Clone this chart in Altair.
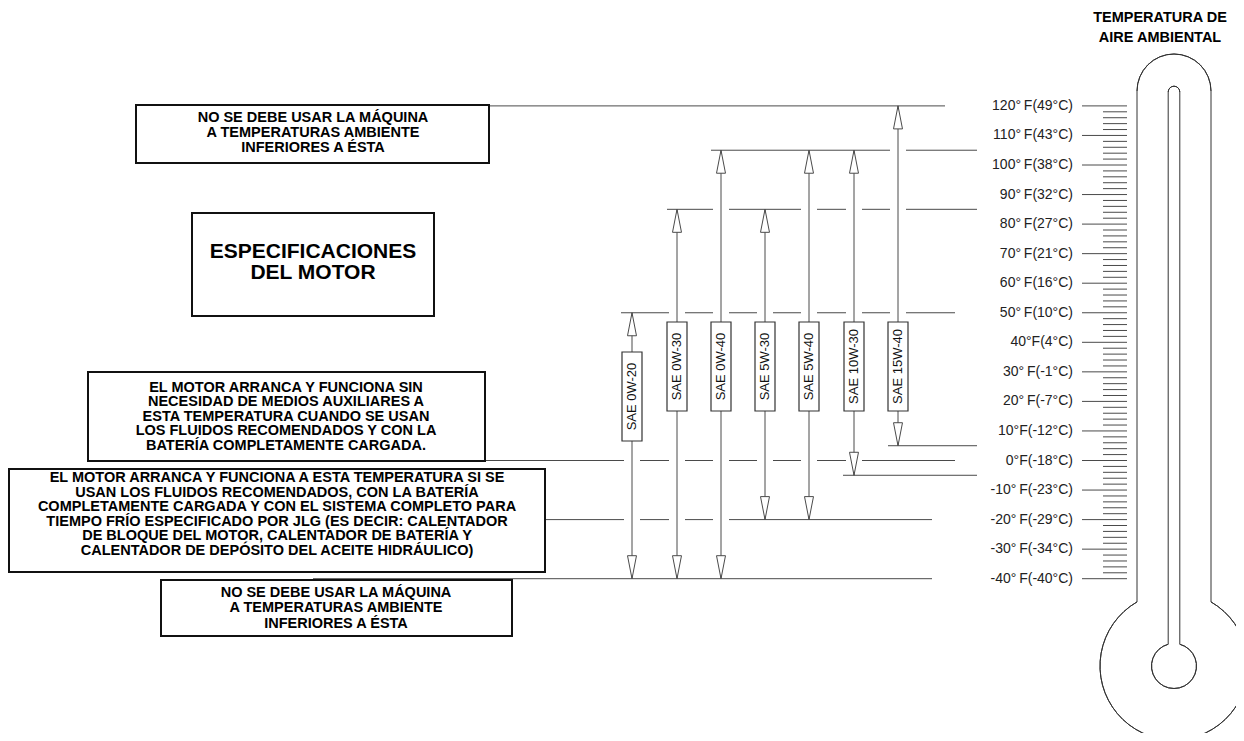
import altair as alt
import pandas as pd

# ---------------- chart data ----------------
oil_grades = ["SAE 0W-20", "SAE 0W-30", "SAE 0W-40", "SAE 5W-30",
              "SAE 5W-40", "SAE 10W-30", "SAE 15W-40"]
oil_low_f = [-40, -40, -40, -20, -20, -5, 5]
oil_high_f = [50, 85, 105, 85, 105, 105, 120]

scale_f = [120, 110, 100, 90, 80, 70, 60, 50, 40, 30, 20, 10, 0,
           -10, -20, -30, -40]
TS = "\u2009"
scale_labels = [
    f"120°{TS}F(49°C)", f"110°{TS}F(43°C)", f"100°{TS}F(38°C)",
    f"90°{TS}F(32°C)", f"80°{TS}F(27°C)", f"70°{TS}F(21°C)",
    f"60°{TS}F(16°C)", f"50°{TS}F(10°C)", "40°F(4°C)",
    f"30°{TS}F(-1°C)", f"20°{TS}F(-7°C)", "10°F(-12°C)", "0°F(-18°C)",
    f"-10°{TS}F(-23°C)", f"-20°{TS}F(-29°C)", f"-30°{TS}F(-34°C)",
    f"-40°{TS}F(-40°C)",
]
minor_f = [t for t in range(-38, 120, 2) if t % 10 != 0]

guide_f = [120, 105, 85, 50, 5, 0, -5, -20, -40]

note_no_use = ["NO SE DEBE USAR LA MÁQUINA", "A TEMPERATURAS AMBIENTE",
               "INFERIORES A ÉSTA"]
note_title = ["ESPECIFICACIONES", "DEL MOTOR"]
note_start = ["EL MOTOR ARRANCA Y FUNCIONA SIN",
              "NECESIDAD DE MEDIOS AUXILIARES A",
              "ESTA TEMPERATURA CUANDO SE USAN",
              "LOS FLUIDOS RECOMENDADOS Y CON LA",
              "BATERÍA COMPLETAMENTE CARGADA."]
note_cold = ["EL MOTOR ARRANCA Y FUNCIONA A ESTA TEMPERATURA SI SE",
             "USAN LOS FLUIDOS RECOMENDADOS, CON LA BATERÍA",
             "COMPLETAMENTE CARGADA Y CON EL SISTEMA COMPLETO PARA",
             "TIEMPO FRÍO ESPECIFICADO POR JLG (ES DECIR: CALENTADOR",
             "DE BLOQUE DEL MOTOR, CALENTADOR DE BATERÍA Y",
             "CALENTADOR DE DEPÓSITO DEL ACEITE HIDRÁULICO)"]
thermo_title = ["TEMPERATURA DE", "AIRE AMBIENTAL"]

# ---------------- layout (pixels of the page) ----------------
W, H = 1228, 725
PX_PER_F, Y_ZERO = 2.955, 460.5


def f_at(py):
    return (Y_ZERO - py) / PX_PER_F


FONT = "Liberation Sans"
LINE = "#4a4a4a"

oil_x = [632, 677, 721, 765, 809, 854, 898]
oil_box_cy = [396.5, 366.5, 366.5, 366.5, 366.5, 366.5, 366.5]
guide_x1 = [489, 711, 667, 621, 888, 485, 843, 545, 313]
guide_x2 = [945, 977, 977, 955, 977, 955, 977, 932, 932]

note_boxes = [  # x1, x2, top, bottom
    (136, 489, 105, 163),
    (192, 434, 213, 316),
    (88, 485, 372, 461),
    (9, 545, 469, 572),
    (161, 512, 580, 636),
]
note_blocks = [  # lines, center x, first line y, line step, font size
    (note_no_use, 313, 117.5, 15.3, 14.5),
    (note_title, 313, 251.5, 21.5, 21),
    (note_start, 286, 387.5, 14.5, 14.5),
    (note_cold, 277, 478.3, 14.5, 14.5),
    (note_no_use, 336, 593, 15.3, 14.5),
    (thermo_title, 1160, 18, 19.5, 14.5),
]

xs = alt.Scale(domain=[8, 8 + W], nice=False, zero=False)
ys = alt.Scale(domain=[f_at(8 + H), f_at(8)], nice=False, zero=False)


def X(f):
    return alt.X(f, type="quantitative", scale=xs, axis=None)


def Y(f):
    return alt.Y(f, type="quantitative", scale=ys, axis=None)


# ---------------- tables ----------------
oil_df = pd.DataFrame({
    "grade": oil_grades, "low": oil_low_f, "high": oil_high_f, "x": oil_x,
    "bx1": [v - 10 for v in oil_x], "bx2": [v + 10 for v in oil_x],
    "by1": [f_at(c - 44.5) for c in oil_box_cy],
    "by2": [f_at(c + 44.5) for c in oil_box_cy],
    "cy": [f_at(c) for c in oil_box_cy],
})

guides_df = pd.DataFrame({"f": guide_f, "x1": guide_x1, "x2": guide_x2})

mask_rows = []
for g, a, b in zip(guide_f, guide_x1, guide_x2):
    for lo, hi, ox in zip(oil_low_f, oil_high_f, oil_x):
        if lo < g < hi and a < ox < b:
            mask_rows.append({"f": g, "x1": ox - 8, "x2": ox + 8})
mask_df = pd.DataFrame(mask_rows)

nbox_df = pd.DataFrame([
    {"x1": a, "x2": b, "y1": f_at(t), "y2": f_at(u)} for a, b, t, u in note_boxes
])

ntext_rows = []
for lines, cx, y0, step, size in note_blocks:
    for i, s in enumerate(lines):
        ntext_rows.append({"t": s, "x": cx, "y": f_at(y0 + i * step), "size": size})
ntext_df = pd.DataFrame(ntext_rows)

major_df = pd.DataFrame({"f": scale_f, "label": scale_labels,
                         "x1": 1082, "x2": 1127, "lx": 1073})
minor_df = pd.DataFrame({"f": minor_f, "x1": 1103, "x2": 1127})

tube_df = pd.DataFrame({
    "x": [1137, 1211, 1168.2, 1179.8],
    "y1": [f_at(91), f_at(91), f_at(92), f_at(92)],
    "y2": [f_at(602), f_at(602), f_at(644.3), f_at(644.3)],
})

arcs = [  # cx, cy(px), r, theta0, theta1
    (1174, 91, 37, 4.71239, 7.85398),
    (1174, 92, 5.8, 4.71239, 7.85398),
    (1174, 666, 74, 0.5236, 5.7596),
    (1174, 666, 22.5, 0.2607, 6.0225),
]

# ---------------- layers ----------------
UP = "M0,0L0.39,2L-0.39,2Z"
DOWN = "M0,0L0.39,-2L-0.39,-2Z"

guides = alt.Chart(guides_df).mark_rule(color=LINE, strokeWidth=1).encode(
    x=X("x1"), x2=alt.X2("x2"), y=Y("f"))
masks = alt.Chart(mask_df).mark_rule(color="white", strokeWidth=4).encode(
    x=X("x1"), x2=alt.X2("x2"), y=Y("f"))
shafts = alt.Chart(oil_df).mark_rule(color=LINE, strokeWidth=1).encode(
    x=X("x"), y=Y("low"), y2=alt.Y2("high"))
heads_up = alt.Chart(oil_df).mark_point(
    shape=UP, size=529, filled=True, fill="white", stroke=LINE,
    strokeWidth=1, opacity=1).encode(x=X("x"), y=Y("high"))
heads_down = alt.Chart(oil_df).mark_point(
    shape=DOWN, size=529, filled=True, fill="white", stroke=LINE,
    strokeWidth=1, opacity=1).encode(x=X("x"), y=Y("low"))
oil_boxes = alt.Chart(oil_df).mark_rect(
    fill="white", stroke="#333", strokeWidth=1.2).encode(
    x=X("bx1"), x2=alt.X2("bx2"), y=Y("by1"), y2=alt.Y2("by2"))
oil_text = alt.Chart(oil_df).mark_text(
    angle=270, fontSize=13, font=FONT, color="#111",
    align="center", baseline="middle").encode(
    x=X("x"), y=Y("cy"), text="grade:N")

nboxes = alt.Chart(nbox_df).mark_rect(
    fill="white", stroke="#111", strokeWidth=2).encode(
    x=X("x1"), x2=alt.X2("x2"), y=Y("y1"), y2=alt.Y2("y2"))
ntext = alt.Chart(ntext_df).mark_text(
    font=FONT, fontWeight="bold", color="#000",
    align="center", baseline="middle").encode(
    x=X("x"), y=Y("y"), text="t:N", size=alt.Size("size:Q", scale=None))

arc_layers = []
for cx, cy, r, t0, t1 in arcs:
    arc_layers.append(
        alt.Chart(pd.DataFrame({"x": [cx], "y": [f_at(cy)]})).mark_arc(
            filled=False, stroke="#333", strokeWidth=1).encode(
            x=X("x"), y=Y("y"),
            theta=alt.value(t0), theta2=alt.value(t1),
            radius=alt.value(r), radius2=alt.value(r)))

tubes = alt.Chart(tube_df).mark_rule(color="#333", strokeWidth=1).encode(
    x=X("x"), y=Y("y1"), y2=alt.Y2("y2"))
minor = alt.Chart(minor_df).mark_rule(color=LINE, strokeWidth=1).encode(
    x=X("x1"), x2=alt.X2("x2"), y=Y("f"))
major = alt.Chart(major_df).mark_rule(color=LINE, strokeWidth=1).encode(
    x=X("x1"), x2=alt.X2("x2"), y=Y("f"))
labels = alt.Chart(major_df).mark_text(
    align="right", baseline="middle", font=FONT, fontSize=14,
    color="#222").encode(x=X("lx"), y=Y("f"), text="label:N")

chart = alt.layer(
    guides, masks, shafts, heads_up, heads_down, oil_boxes, oil_text,
    nboxes, ntext, *arc_layers, tubes, minor, major, labels,
).properties(
    width=W, height=H, padding=0,
    autosize=alt.AutoSizeParams(type="none"),
    background="white",
).configure_view(strokeWidth=0)

chart.save("out.html", embed_options={"renderer": "svg", "actions": False})
